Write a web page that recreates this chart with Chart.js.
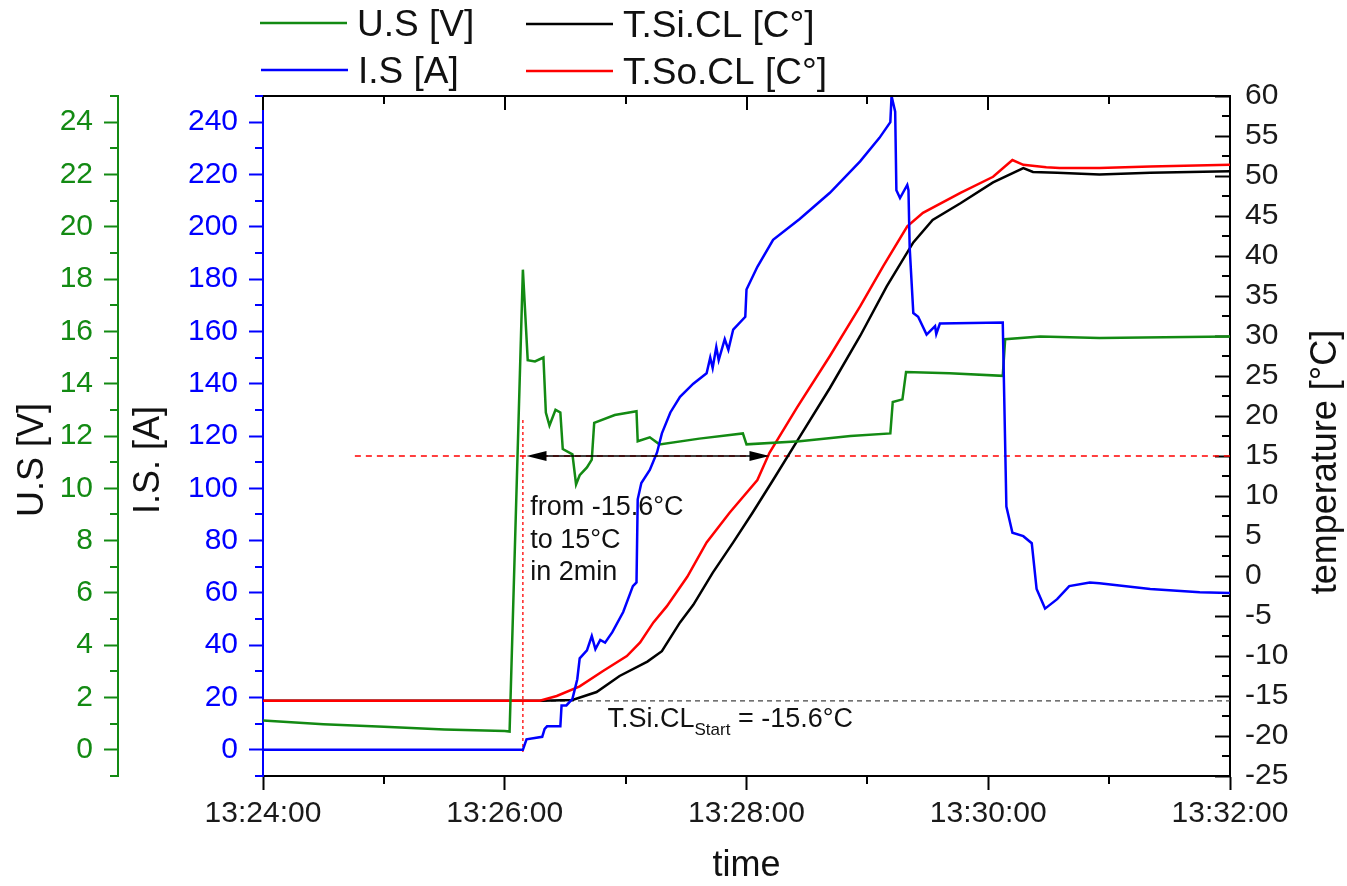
<!DOCTYPE html>
<html>
<head>
<meta charset="utf-8">
<script src="https://cdn.jsdelivr.net/npm/chart.js@4.4.1/dist/chart.umd.min.js"></script>
<style>
  html, body { margin: 0; padding: 0; background: #fff; }
  #wrap { width: 1347px; height: 886px; position: relative; }
</style>
</head>
<body>
<div id="wrap"><canvas id="chart"></canvas></div>
<script>
// time axis: minutes after 13:24:00
const xTicks = [0, 2, 4, 6, 8];
const xMinor = [1, 3, 5, 7];
const xLabels = ["13:24:00", "13:26:00", "13:28:00", "13:30:00", "13:32:00"];

const uTicks = [0, 2, 4, 6, 8, 10, 12, 14, 16, 18, 20, 22, 24];
const uMinor = [-1, 1, 3, 5, 7, 9, 11, 13, 15, 17, 19, 21, 23, 25];
const iTicks = [0, 20, 40, 60, 80, 100, 120, 140, 160, 180, 200, 220, 240];
const iMinor = [-10, 10, 30, 50, 70, 90, 110, 130, 150, 170, 190, 210, 230, 250];
const tTicks = [-25, -20, -15, -10, -5, 0, 5, 10, 15, 20, 25, 30, 35, 40, 45, 50, 55, 60];
const tMinor = [-22.5, -17.5, -12.5, -7.5, -2.5, 2.5, 7.5, 12.5, 17.5, 22.5, 27.5, 32.5, 37.5, 42.5, 47.5, 52.5, 57.5];

// U.S [V]
const uTime = [0, 0.5, 1.0, 1.5, 2.0, 2.04, 2.15, 2.19, 2.25, 2.32, 2.34, 2.37, 2.42, 2.46, 2.48, 2.56, 2.59, 2.62, 2.68, 2.72,
  2.74, 2.91, 3.09, 3.10, 3.20, 3.28, 3.61, 3.97, 4.00, 4.44, 4.86, 5.19, 5.21, 5.29, 5.32, 5.68, 6.12, 6.14, 6.43, 6.92, 8.0];
const uValues = [1.12, 0.98, 0.88, 0.78, 0.72, 0.70, 18.36, 14.9, 14.85, 15.0, 12.9, 12.4, 13.0, 12.9, 11.5, 11.3, 10.15, 10.5, 10.8, 11.1,
  12.5, 12.8, 12.95, 11.8, 11.95, 11.68, 11.9, 12.1, 11.68, 11.8, 12.0, 12.1, 13.3, 13.4, 14.45, 14.4, 14.3, 15.7, 15.8, 15.75, 15.8];

// I.S [A]
const iTime = [0, 2.15, 2.18, 2.31, 2.33, 2.35, 2.46, 2.47, 2.51, 2.56, 2.60, 2.62, 2.68, 2.72, 2.75, 2.79, 2.83, 2.89, 2.98, 3.06,
  3.09, 3.10, 3.13, 3.20, 3.26, 3.30, 3.37, 3.45, 3.56, 3.67, 3.70, 3.72, 3.75, 3.77, 3.82, 3.85, 3.89, 3.99, 4.00, 4.09,
  4.22, 4.44, 4.69, 4.94, 5.10, 5.19, 5.20, 5.23, 5.24, 5.27, 5.33, 5.34, 5.35, 5.38, 5.42, 5.49, 5.56, 5.57, 5.60, 6.12,
  6.15, 6.20, 6.29, 6.36, 6.40, 6.47, 6.57, 6.67, 6.84, 6.92, 7.34, 7.75, 8.0];
const iValues = [0, 0, 4, 5, 8, 9, 9, 17, 17, 19.5, 27, 35, 38, 43.5, 38.5, 42, 41, 45, 52.7, 62.6,
  64, 95.8, 102, 107, 113.7, 121, 129, 135, 140, 144, 150, 146, 154, 149, 157, 153, 160.7, 165.6, 176, 184.7,
  195, 203, 213, 225, 234, 240, 250, 244, 214, 211, 216, 214, 192, 167, 165.6, 158.8, 162, 159, 163, 163.4,
  93, 83, 81.7, 79, 61.5, 54, 57.6, 62.6, 64, 63.7, 61.5, 60.3, 60];

// T.Si.CL [C°]
const siTime = [0, 2.30, 2.56, 2.76, 2.95, 3.18, 3.30, 3.45, 3.56, 3.72, 3.89, 4.05, 4.22, 4.44, 4.69, 4.94, 5.16, 5.38, 5.54, 5.77,
  6.04, 6.29, 6.37, 6.57, 6.92, 7.34, 8.0];
const siValues = [-15.6, -15.6, -15.5, -14.5, -12.5, -10.7, -9.4, -5.8, -3.6, 0.4, 4.2, 7.9, 12.0, 17.4, 23.5, 30.0, 36.2, 41.7, 44.5, 46.6,
  49.2, 51.0, 50.5, 50.4, 50.2, 50.4, 50.6];

// T.So.CL [C°]
const soTime = [0, 2.29, 2.43, 2.62, 2.81, 3.01, 3.12, 3.23, 3.34, 3.51, 3.67, 3.86, 4.09, 4.19, 4.42, 4.69, 4.94, 5.13, 5.33, 5.46,
  5.77, 6.04, 6.20, 6.29, 6.48, 6.59, 6.92, 7.34, 8.0];
const soValues = [-15.6, -15.6, -15.0, -13.8, -11.9, -10.0, -8.3, -5.8, -3.8, -0.1, 4.2, 7.9, 12.0, 15.4, 21.1, 27.5, 33.7, 38.7, 43.7, 45.4,
  47.9, 49.9, 52.0, 51.4, 51.1, 51.0, 51.0, 51.2, 51.4];

// annotation values
const startTemp = -15.6;
const targetTemp = 15;
const levelFrom = 0.76;
const markerTime = 2.15, markerTop = 19.5, markerBottom = -22;
const arrowFrom = 2.18, arrowTo = 4.19;
const noteLines = ["from -15.6°C", "to 15°C", "in 2min"];
const noteTime = 2.21, noteTemps = [7.6, 3.5, -0.5];
const startNoteTime = 2.85, startNoteTemp = -18.9;

const GREEN = "#138a13", BLUE = "#0000ff", RED = "#ff0000", BLACK = "#000000";
const FONT = "'Liberation Sans', Arial, sans-serif";
Chart.defaults.font.family = FONT;

const toPoints = (ts, vs) => ts.map((t, i) => ({ x: t, y: vs[i] }));
const useTicks = list => scale => { scale.ticks = list.map(v => ({ value: v })); };

function seg(ctx, x1, y1, x2, y2) {
    ctx.beginPath();
    ctx.moveTo(x1, y1);
    ctx.lineTo(x2, y2);
    ctx.stroke();
}

// short ticks between the labelled ones
function minorTicks(ctx, scale, values, edge, len, dir, color) {
    ctx.strokeStyle = color;
    ctx.lineWidth = 2;
    ctx.beginPath();
    values.forEach(v => {
        const p = Math.round(scale.getPixelForValue(v));
        if (dir === "h") { ctx.moveTo(edge, p); ctx.lineTo(edge + len, p); }
        else { ctx.moveTo(p, edge); ctx.lineTo(p, edge + len); }
    });
    ctx.stroke();
}

function vTitle(ctx, text, x, y) {
    ctx.save();
    ctx.translate(x, y);
    ctx.rotate(-Math.PI / 2);
    ctx.font = "36px " + FONT;
    ctx.fillStyle = "#111";
    ctx.textAlign = "center";
    ctx.textBaseline = "alphabetic";
    ctx.fillText(text, 0, 0);
    ctx.restore();
}

const decorations = {
    id: "decorations",
    beforeDatasetsDraw(chart) {
        const { ctx, chartArea: a, scales: { x, yT } } = chart;
        ctx.save();
        ctx.lineWidth = 1.3;
        ctx.strokeStyle = "#444";
        ctx.setLineDash([5, 4]);
        seg(ctx, a.left, yT.getPixelForValue(startTemp), a.right, yT.getPixelForValue(startTemp));
        ctx.strokeStyle = RED;
        ctx.setLineDash([6, 5]);
        seg(ctx, x.getPixelForValue(levelFrom), yT.getPixelForValue(targetTemp), a.right, yT.getPixelForValue(targetTemp));
        ctx.setLineDash([3, 3]);
        const mx = x.getPixelForValue(markerTime);
        seg(ctx, mx, yT.getPixelForValue(markerTop), mx, yT.getPixelForValue(markerBottom));
        ctx.restore();
    },
    afterDatasetsDraw(chart) {
        const { ctx, scales: { x, yT } } = chart;
        ctx.save();
        // double arrow
        const y = yT.getPixelForValue(targetTemp);
        const x1 = x.getPixelForValue(arrowFrom), x2 = x.getPixelForValue(arrowTo);
        ctx.strokeStyle = BLACK;
        ctx.fillStyle = BLACK;
        ctx.lineWidth = 1.5;
        seg(ctx, x1 + 10, y, x2 - 10, y);
        ctx.beginPath();
        ctx.moveTo(x1, y); ctx.lineTo(x1 + 20, y - 5); ctx.lineTo(x1 + 20, y + 5); ctx.closePath();
        ctx.moveTo(x2, y); ctx.lineTo(x2 - 20, y - 5); ctx.lineTo(x2 - 20, y + 5); ctx.closePath();
        ctx.fill();

        ctx.fillStyle = "#111";
        ctx.font = "27px " + FONT;
        ctx.textAlign = "left";
        ctx.textBaseline = "alphabetic";
        noteLines.forEach((s, i) => ctx.fillText(s, x.getPixelForValue(noteTime), yT.getPixelForValue(noteTemps[i])));

        let sx = x.getPixelForValue(startNoteTime);
        const sy = yT.getPixelForValue(startNoteTemp);
        ctx.fillText("T.Si.CL", sx, sy);
        sx += ctx.measureText("T.Si.CL").width;
        ctx.font = "17px " + FONT;
        ctx.fillText("Start", sx, sy + 8);
        sx += ctx.measureText("Start").width;
        ctx.font = "27px " + FONT;
        ctx.fillText(" = -15.6°C", sx, sy);
        ctx.restore();
    },
    afterDraw(chart) {
        const { ctx, chartArea: a, scales: { x, yU, yI, yT } } = chart;
        ctx.save();
        // frame top with mirrored time ticks
        ctx.strokeStyle = BLACK;
        ctx.lineWidth = 2;
        seg(ctx, a.left - 1, a.top, a.right + 1, a.top);
        minorTicks(ctx, x, xTicks, a.top, 14, "v", BLACK);
        minorTicks(ctx, x, xMinor, a.top, 8, "v", BLACK);
        minorTicks(ctx, x, xMinor, a.bottom, 8, "v", BLACK);
        minorTicks(ctx, yU, uMinor, yU.right, -8, "h", GREEN);
        minorTicks(ctx, yI, iMinor, yI.right, -8, "h", BLUE);
        minorTicks(ctx, yT, tMinor, yT.left, -8, "h", BLACK);

        const midY = (a.top + a.bottom) / 2 + 24;
        vTitle(ctx, "U.S [V]", 43, midY);
        vTitle(ctx, "I.S. [A]", 159, midY);
        vTitle(ctx, "temperature [°C]", 1336, midY + 2);

        // legend, two columns
        const items = [
            { label: "U.S [V]", color: GREEN, x: 260, y: 23 },
            { label: "I.S [A]", color: BLUE, x: 261, y: 70 },
            { label: "T.Si.CL [C°]", color: BLACK, x: 526, y: 24 },
            { label: "T.So.CL [C°]", color: RED, x: 526, y: 71 }
        ];
        ctx.font = "37px " + FONT;
        ctx.textAlign = "left";
        ctx.textBaseline = "alphabetic";
        items.forEach(it => {
            ctx.strokeStyle = it.color;
            ctx.lineWidth = 2.5;
            seg(ctx, it.x, it.y, it.x + 87, it.y);
            ctx.fillStyle = "#111";
            ctx.fillText(it.label, it.x + 97, it.y + 13);
        });
        ctx.restore();
    }
};

const line = (data, color, axis, order) => ({
    data, yAxisID: axis, order,
    borderColor: color, backgroundColor: color,
    borderWidth: 2.5, pointRadius: 0, tension: 0, fill: false
});

new Chart(document.getElementById("chart"), {
    type: "line",
    data: {
        datasets: [
            line(toPoints(uTime, uValues), GREEN, "yU", 1),
            line(toPoints(iTime, iValues), BLUE, "yI", 0),
            line(toPoints(siTime, siValues), BLACK, "yT", 3),
            line(toPoints(soTime, soValues), RED, "yT", 2)
        ]
    },
    options: {
        responsive: true,
        maintainAspectRatio: false,
        animation: false,
        layout: { padding: { top: 96, left: 0, right: 0, bottom: 0 } },
        plugins: { legend: { display: false }, tooltip: { enabled: false } },
        scales: {
            x: {
                type: "linear", min: 0, max: 8,
                afterBuildTicks: useTicks(xTicks),
                afterFit: s => { s.height = 110; },
                ticks: { callback: (v, i) => xLabels[i], font: { size: 30 }, color: "#1a1a1a", padding: 6, maxRotation: 0, autoSkip: false },
                grid: { drawOnChartArea: false, tickLength: 14, tickWidth: 2, tickColor: BLACK },
                border: { color: BLACK, width: 2 },
                title: { display: true, text: "time", font: { size: 36, lineHeight: 1 }, color: "#111", padding: { top: 0, bottom: 2 } }
            },
            yU: {
                type: "linear", position: "left", weight: 2, min: -1, max: 25,
                afterBuildTicks: useTicks(uTicks),
                afterFit: s => { s.width = 118; },
                ticks: { font: { size: 30 }, color: GREEN, padding: 11 },
                grid: { drawOnChartArea: false, tickLength: 14, tickWidth: 2, tickColor: GREEN },
                border: { color: GREEN, width: 2 }
            },
            yI: {
                type: "linear", position: "left", weight: 1, min: -10, max: 250,
                afterBuildTicks: useTicks(iTicks),
                afterFit: s => { s.width = 145; },
                ticks: { font: { size: 30 }, color: BLUE, padding: 11 },
                grid: { drawOnChartArea: false, tickLength: 14, tickWidth: 2, tickColor: BLUE },
                border: { color: BLUE, width: 2 }
            },
            yT: {
                type: "linear", position: "right", min: -25, max: 60,
                afterBuildTicks: useTicks(tTicks),
                afterFit: s => { s.width = 117; },
                ticks: { font: { size: 30 }, color: "#1a1a1a", padding: 30 },
                grid: { drawOnChartArea: false, tickLength: -15, tickWidth: 2, tickColor: BLACK },
                border: { color: BLACK, width: 2 }
            }
        }
    },
    plugins: [decorations]
});
</script>
</body>
</html>
